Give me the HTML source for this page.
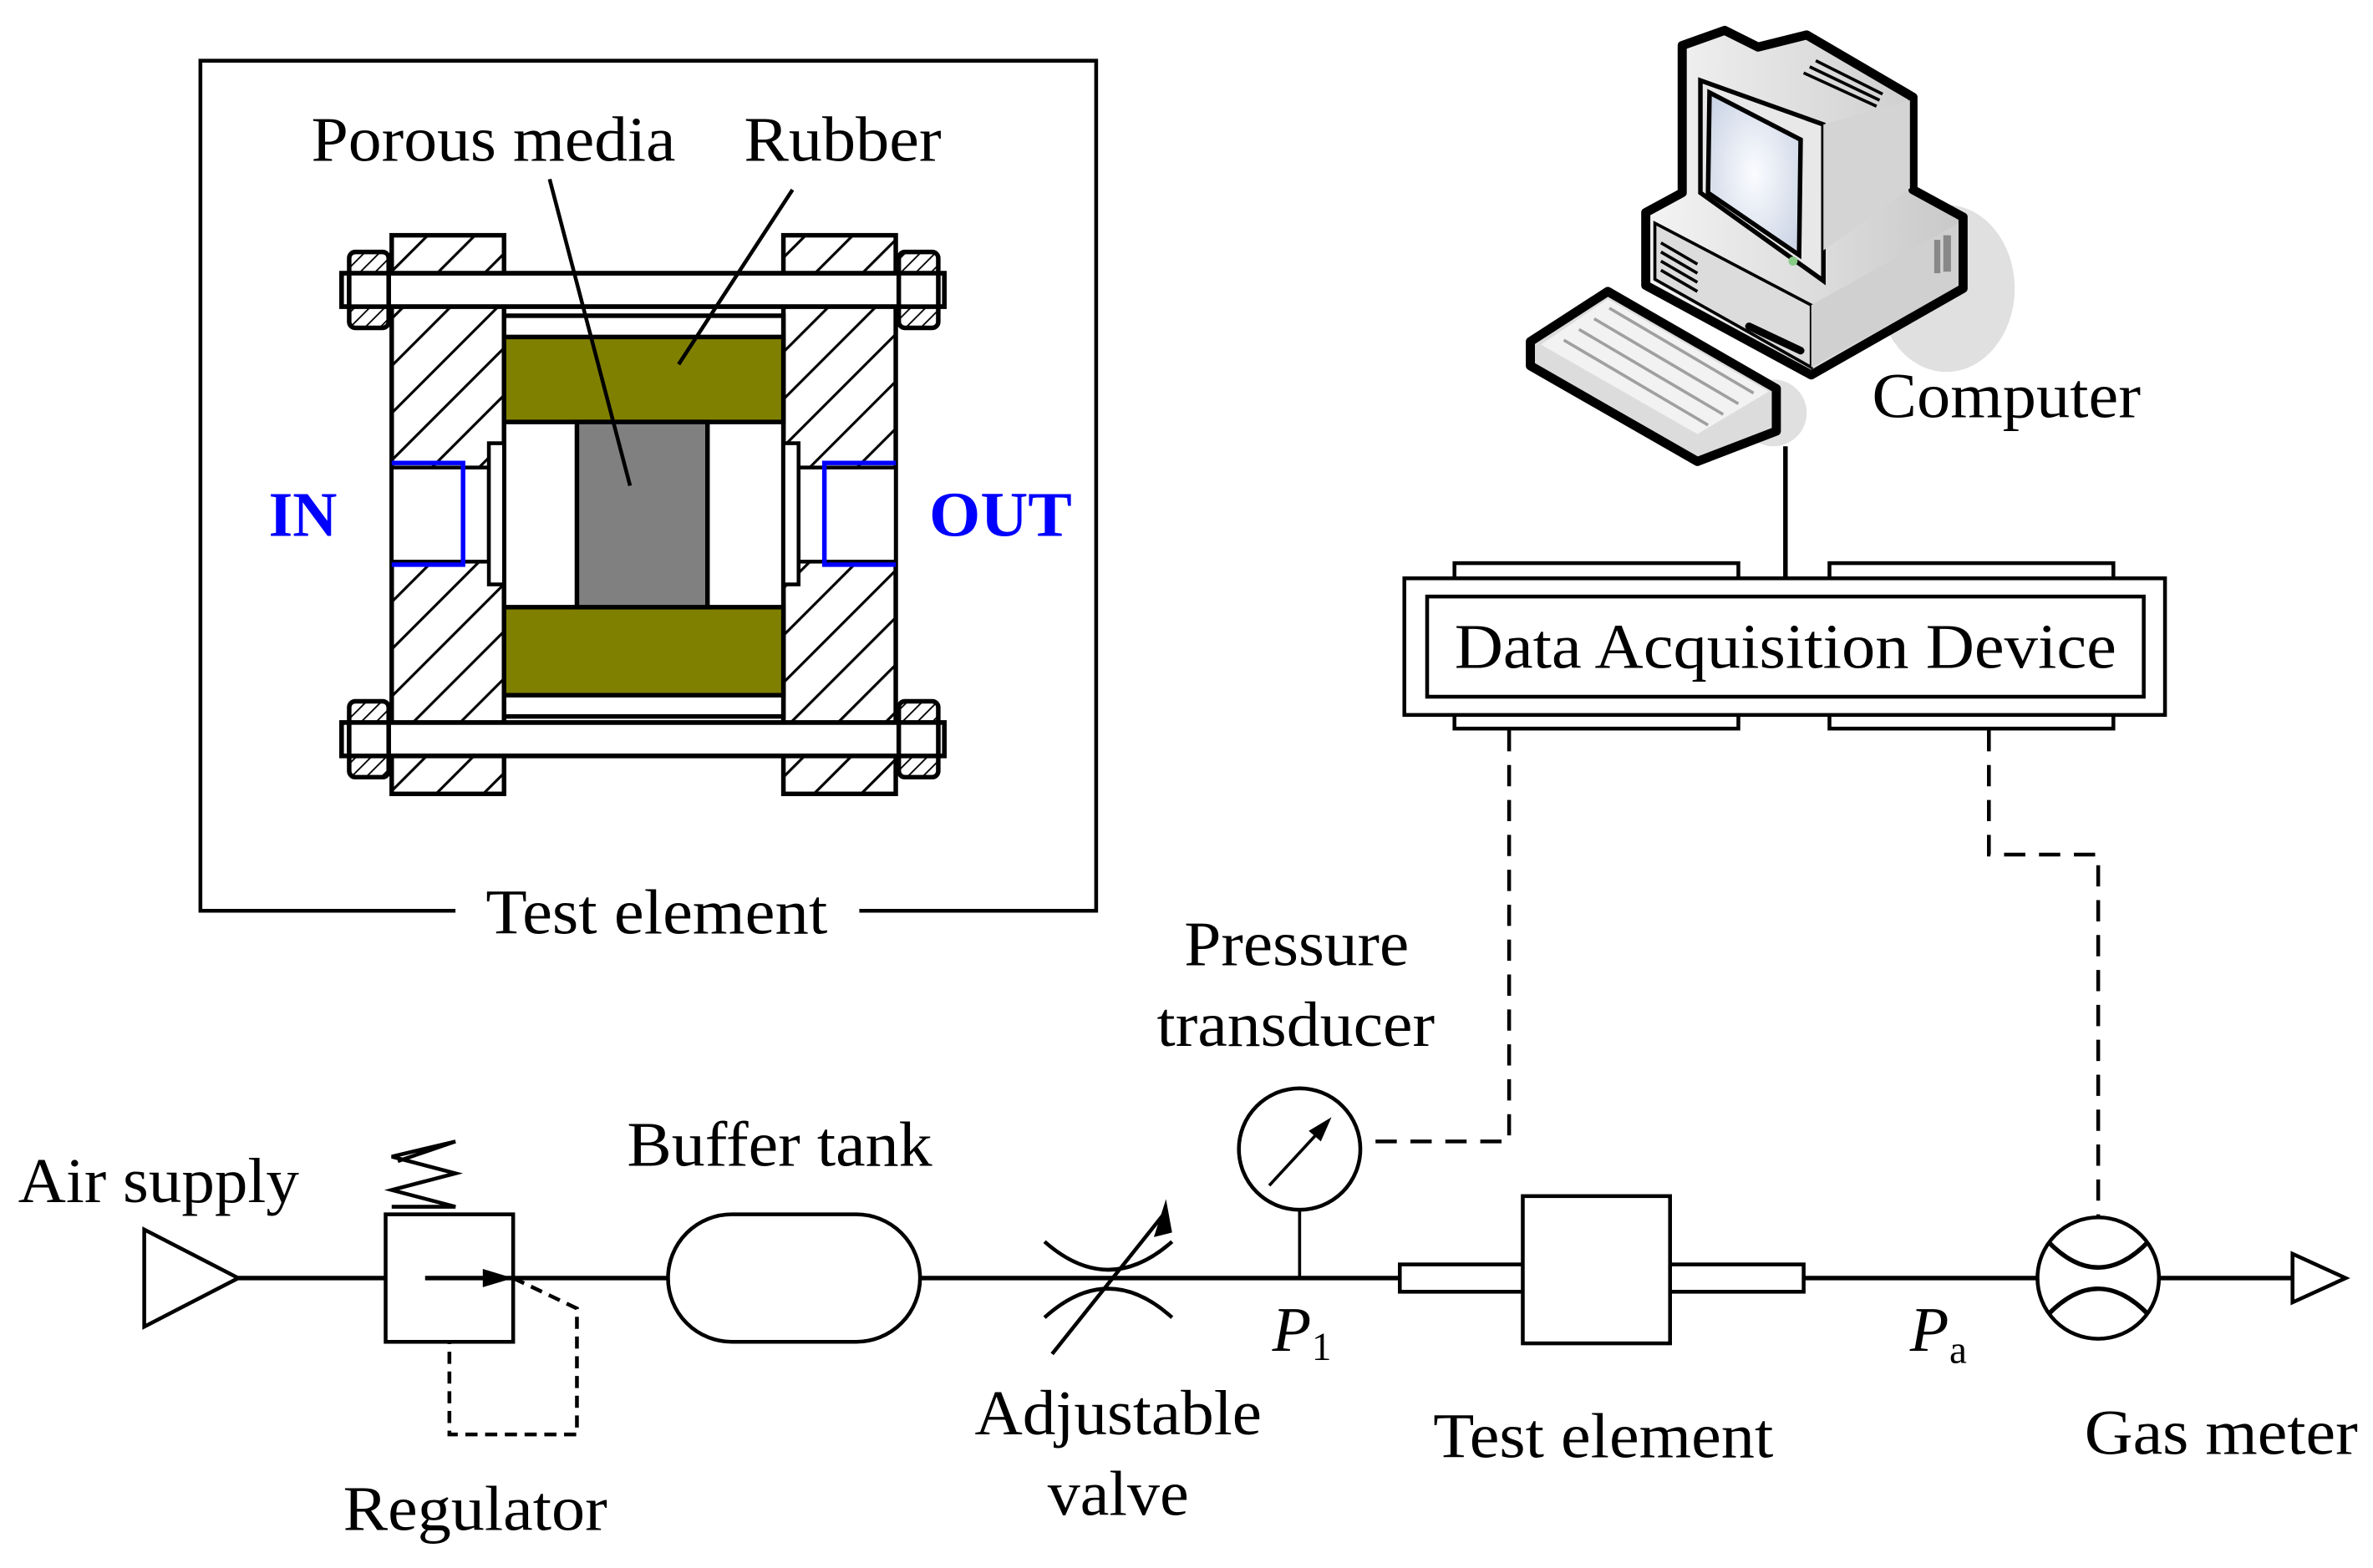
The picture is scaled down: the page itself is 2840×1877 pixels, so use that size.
<!DOCTYPE html>
<html><head><meta charset="utf-8"><style>
html,body{margin:0;padding:0;background:#fff;}
svg{display:block;}
text{font-family:"Liberation Serif",serif;font-size:42px;fill:#000;}
</style></head><body>
<svg width="2840" height="1877" viewBox="0 0 1563 1033" preserveAspectRatio="none" xmlns="http://www.w3.org/2000/svg">
<defs>
<pattern id="h" patternUnits="userSpaceOnUse" width="22" height="22" patternTransform="rotate(45)">
<rect width="22" height="22" fill="#fff"/><line x1="0" y1="0" x2="0" y2="22" stroke="#000" stroke-width="3.5"/>
</pattern>
<pattern id="hs" patternUnits="userSpaceOnUse" width="7" height="7" patternTransform="rotate(45)">
<rect width="7" height="7" fill="#fff"/><line x1="0" y1="0" x2="0" y2="7" stroke="#000" stroke-width="2"/>
</pattern>
<radialGradient id="scr" cx="0.5" cy="0.5" r="0.6"><stop offset="0" stop-color="#fbfcff"/><stop offset="1" stop-color="#cdd6e6"/></radialGradient>
<linearGradient id="gr" x1="0" x2="1"><stop offset="0" stop-color="#f4f4f4"/><stop offset="1" stop-color="#c8c8c8"/></linearGradient>
</defs>

<!-- inset box -->
<polyline points="300,600 132,600 132,40 722,40 722,600 566,600" fill="none" stroke="#000" stroke-width="2.5"/>
<text x="320" y="615" textLength="225" lengthAdjust="spacingAndGlyphs">Test element</text>
<text x="205" y="106" textLength="240" lengthAdjust="spacingAndGlyphs">Porous media</text>
<text x="490" y="106" textLength="130" lengthAdjust="spacingAndGlyphs">Rubber</text>

<!-- flanges -->
<rect x="258" y="155" width="74" height="368" fill="url(#h)" stroke="#000" stroke-width="3"/>
<rect x="516" y="155" width="74" height="368" fill="url(#h)" stroke="#000" stroke-width="3"/>
<rect x="332" y="208" width="184" height="264" fill="#fff" stroke="#000" stroke-width="3"/>
<rect x="332" y="222" width="184" height="56" fill="#808000" stroke="#000" stroke-width="3"/>
<rect x="332" y="400" width="184" height="58" fill="#808000" stroke="#000" stroke-width="3"/>
<rect x="380" y="278" width="86" height="122" fill="#808080" stroke="#000" stroke-width="3"/>
<!-- ports -->
<rect x="258" y="308" width="64" height="62" fill="#fff" stroke="#000" stroke-width="2.5"/>
<rect x="322" y="292" width="10" height="93" fill="#fff" stroke="#000" stroke-width="2.5"/>
<polyline points="258,305 305,305 305,372 258,372" fill="none" stroke="#0000ff" stroke-width="3"/>
<rect x="526" y="308" width="64" height="62" fill="#fff" stroke="#000" stroke-width="2.5"/>
<rect x="516" y="292" width="10" height="93" fill="#fff" stroke="#000" stroke-width="2.5"/>
<polyline points="590,305 543,305 543,372 590,372" fill="none" stroke="#0000ff" stroke-width="3"/>
<text x="177" y="353" textLength="45" lengthAdjust="spacingAndGlyphs" style="fill:#0000ff;font-weight:bold">IN</text>
<text x="612" y="353" textLength="94" lengthAdjust="spacingAndGlyphs" style="fill:#0000ff;font-weight:bold">OUT</text>
<!-- bolts -->
<g stroke="#000" stroke-width="3">
<rect x="225" y="180" width="397" height="22" fill="#fff"/>
<rect x="225" y="476" width="397" height="22" fill="#fff"/>
<rect x="230" y="166" width="26" height="50" rx="4" fill="url(#hs)"/>
<rect x="592" y="166" width="26" height="50" rx="4" fill="url(#hs)"/>
<rect x="230" y="462" width="26" height="50" rx="4" fill="url(#hs)"/>
<rect x="592" y="462" width="26" height="50" rx="4" fill="url(#hs)"/>
<rect x="225" y="180" width="397" height="22" fill="none"/>
<rect x="225" y="476" width="397" height="22" fill="none"/>
<rect x="230" y="180" width="26" height="22" fill="#fff"/>
<rect x="592" y="180" width="26" height="22" fill="#fff"/>
<rect x="230" y="476" width="26" height="22" fill="#fff"/>
<rect x="592" y="476" width="26" height="22" fill="#fff"/>
</g>
<line x1="362" y1="118" x2="415" y2="320" stroke="#000" stroke-width="2.5"/>
<line x1="522" y1="125" x2="447" y2="240" stroke="#000" stroke-width="2.5"/>

<!-- computer -->
<ellipse cx="1282" cy="190" rx="45" ry="55" fill="#e0e0e0"/>
<ellipse cx="1168" cy="272" rx="22" ry="22" fill="#e0e0e0"/>
<polygon points="1108,30 1136,20 1158,31 1190,23 1260,64 1260,125 1293,143 1293,190 1193,247 1084,188 1084,140 1108,127" fill="url(#gr)" stroke="#000" stroke-width="6" stroke-linejoin="round"/>
<polygon points="1090,147 1193,201 1193,242 1090,184" fill="#dcdcdc" stroke="#000" stroke-width="2"/>
<polygon points="1193,201 1290,147 1290,188 1193,242" fill="#d0d0d0"/>
<polygon points="1120,53 1201,82 1201,185 1120,127" fill="#e8e8e8" stroke="#000" stroke-width="3"/>
<polygon points="1126,61 1186,92 1185,168 1125,127" fill="url(#scr)" stroke="#000" stroke-width="3"/>
<polygon points="1201,82 1258,66 1258,124 1201,165" fill="#d4d4d4"/>
<line x1="1152" y1="215" x2="1186" y2="231" stroke="#000" stroke-width="5" stroke-linecap="round"/>
<g stroke="#000" stroke-width="2"><line x1="1094" y1="160" x2="1118" y2="174"/><line x1="1094" y1="166" x2="1118" y2="180"/><line x1="1094" y1="172" x2="1118" y2="186"/><line x1="1094" y1="178" x2="1118" y2="192"/>
<line x1="1188" y1="48" x2="1236" y2="70"/><line x1="1192" y1="44" x2="1238" y2="66"/><line x1="1196" y1="40" x2="1240" y2="62"/></g>
<rect x="1274" y="158" width="4" height="22" fill="#888"/><rect x="1280" y="155" width="5" height="24" fill="#888"/>
<circle cx="1181" cy="172" r="3" fill="#8c8"/>
<polygon points="1008,225 1059,192 1170,256 1170,284 1118,304 1008,241" fill="#dcdcdc" stroke="#000" stroke-width="6" stroke-linejoin="round"/>
<polygon points="1015,227 1059,197 1165,258 1118,286" fill="#f2f2f2"/>
<g stroke="#a0a0a0" stroke-width="2">
<line x1="1030" y1="224" x2="1125" y2="280"/><line x1="1040" y1="217" x2="1135" y2="273"/><line x1="1050" y1="210" x2="1145" y2="266"/><line x1="1060" y1="203" x2="1155" y2="259"/>
</g>
<line x1="1176" y1="294" x2="1176" y2="381" stroke="#000" stroke-width="3"/>
<text x="1233" y="275" textLength="177" lengthAdjust="spacingAndGlyphs">Computer</text>

<!-- DAQ -->
<g fill="#fff" stroke="#000" stroke-width="2.5">
<rect x="958" y="371" width="187" height="10"/><rect x="1205" y="371" width="187" height="10"/>
<rect x="958" y="470" width="187" height="10"/><rect x="1205" y="470" width="187" height="10"/>
<rect x="925" y="381" width="501" height="90"/>
<rect x="940" y="393" width="472" height="66"/>
</g>
<text x="958" y="440" textLength="436" lengthAdjust="spacingAndGlyphs">Data Acquisition Device</text>

<!-- dashed -->
<polyline points="994,481 994,752 897,752" fill="none" stroke="#000" stroke-width="2.5" stroke-dasharray="14,9"/>
<polyline points="1310,481 1310,563 1382,563 1382,802" fill="none" stroke="#000" stroke-width="2.5" stroke-dasharray="14,9"/>

<!-- main line -->
<g stroke="#000" stroke-width="3" fill="none">
<line x1="157" y1="842" x2="440" y2="842"/>
<line x1="606" y1="842" x2="922" y2="842"/>
<line x1="1188" y1="842" x2="1342" y2="842"/>
<line x1="1422" y1="842" x2="1510" y2="842"/>
<polygon points="95,810 95,874 157,842" fill="#fff" stroke-width="2.5"/>
<polygon points="1510,826 1510,858 1545,842" fill="#fff" stroke-width="2.5"/>
<rect x="254" y="800" width="84" height="84" fill="#fff" stroke-width="2.5"/>
<line x1="280" y1="842" x2="338" y2="842"/>
<polyline points="258,795 300,795 258,784 300,773 258,762 300,752 262,765" stroke-width="2.5"/>
<polyline points="338,842 380,862 380,945 296,945 296,884" stroke-dasharray="8,5" stroke-width="2.5"/>
<rect x="440" y="800" width="166" height="84" rx="42" fill="#fff" stroke-width="2.5"/>
<path d="M688,818 Q730,855 772,818" stroke-width="2.5"/>
<path d="M688,868 Q730,830 772,868" stroke-width="2.5"/>
<line x1="693" y1="892" x2="768" y2="798" stroke-width="2.5"/>
<circle cx="856" cy="757" r="40" fill="#fff" stroke-width="2.5"/>
<line x1="856" y1="797" x2="856" y2="842" stroke-width="2"/>
<line x1="836" y1="781" x2="872" y2="742" stroke-width="2"/>
<rect x="922" y="833" width="266" height="18" fill="#fff" stroke-width="2.5"/>
<rect x="1003" y="788" width="97" height="97" fill="#fff" stroke-width="2.5"/>
<circle cx="1382" cy="842" r="40" fill="#fff" stroke-width="2.5"/>
<path d="M1349,818 Q1382,852 1415,818" stroke-width="3"/>
<path d="M1349,866 Q1382,832 1415,866" stroke-width="3"/>
</g>
<polygon points="768,790 760,815 772,812" fill="#000"/>
<polygon points="877,736 862,745 870,752" fill="#000"/>
<polygon points="338,842 318,836 318,848" fill="#000"/>

<text x="12" y="792" textLength="185" lengthAdjust="spacingAndGlyphs">Air supply</text>
<text x="413" y="768" textLength="201" lengthAdjust="spacingAndGlyphs">Buffer tank</text>
<text x="780" y="636" textLength="148" lengthAdjust="spacingAndGlyphs">Pressure</text>
<text x="762" y="689" textLength="183" lengthAdjust="spacingAndGlyphs">transducer</text>
<text x="838" y="890" style="font-style:italic">P</text><text x="864" y="896" style="font-size:26px">1</text>
<text x="1258" y="890" style="font-style:italic">P</text><text x="1284" y="898" style="font-size:26px">a</text>
<text x="642" y="945" textLength="189" lengthAdjust="spacingAndGlyphs">Adjustable</text>
<text x="690" y="998" textLength="93" lengthAdjust="spacingAndGlyphs">valve</text>
<text x="944" y="960" textLength="224" lengthAdjust="spacingAndGlyphs">Test element</text>
<text x="1373" y="958" textLength="180" lengthAdjust="spacingAndGlyphs">Gas meter</text>
<text x="226" y="1008" textLength="174" lengthAdjust="spacingAndGlyphs">Regulator</text>
</svg>
</body></html>
